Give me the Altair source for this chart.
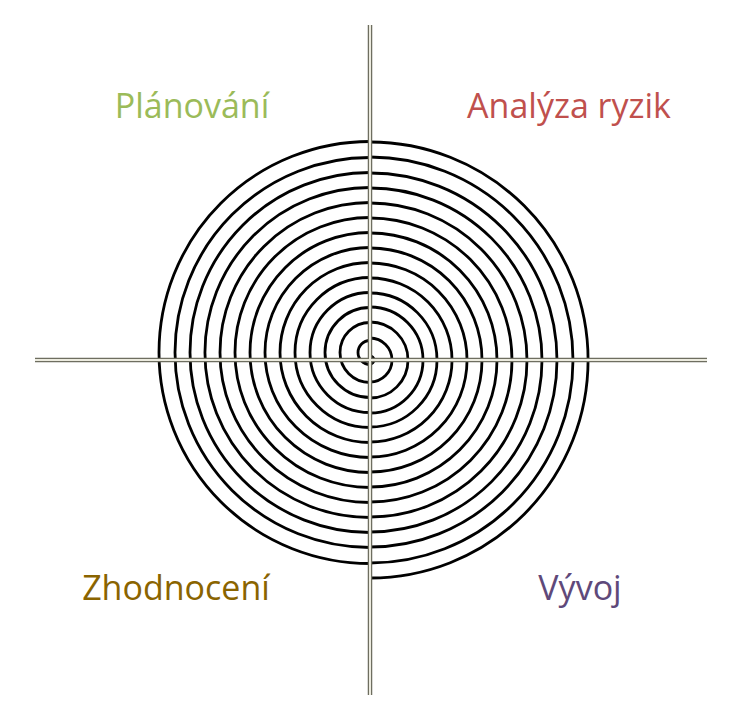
import math
import altair as alt
import pandas as pd

W, H = 726, 704
OX, OY = 8, 8  # page margin

# spiral: radii of right and left half-turns (px)
right_r = [4, 22, 38, 53, 67, 82, 97, 112, 127, 142, 157, 172, 187, 203, 218]
left_r = [12, 30, 45, 60, 75, 90, 105, 120, 135, 150, 165, 180, 195, 211]
center = (370, 360)
shift = 7.5

labels = ["Plánování", "Analýza ryzik", "Zhodnocení", "Vývoj"]
label_x = [192, 569, 176, 580]
label_y = [108, 108, 590, 590]
label_col = ["#9bbb59", "#c0504d", "#8a6400", "#5f497a"]

axis_v = (370, 25, 695)
axis_h = (360, 35, 707)

rows = []
for r in right_r:
    rows.append(dict(x=center[0] - OX, y=center[1] - OY, t1=0, t2=math.pi, r=r))
for r in left_r:
    rows.append(dict(x=center[0] - OX, y=center[1] - OY - shift, t1=math.pi, t2=2 * math.pi, r=r))
arcs = pd.DataFrame(rows)

xs = alt.Scale(domain=[0, W], nice=False, zero=False)
ys = alt.Scale(domain=[H, 0], nice=False, zero=False)

spiral = alt.Chart(arcs).mark_arc(fillOpacity=0, stroke="black", strokeWidth=2.8).encode(
    x=alt.X("x:Q", scale=xs, axis=None),
    y=alt.Y("y:Q", scale=ys, axis=None),
    theta=alt.Theta("t1:Q", scale=None), theta2="t2:Q",
    radius=alt.Radius("r:Q", scale=None), radius2="r:Q")

rules_df = pd.DataFrame({
    "x": [axis_v[0] - OX, axis_h[1] - OX], "x2": [axis_v[0] - OX, axis_h[2] - OX],
    "y": [axis_v[1] - OY, axis_h[0] - OY], "y2": [axis_v[2] - OY, axis_h[0] - OY]})
enc = dict(x=alt.X("x:Q", scale=xs), x2="x2:Q", y=alt.Y("y:Q", scale=ys), y2="y2:Q")
outer = alt.Chart(rules_df).mark_rule(color="#6e6e60", strokeWidth=4.5).encode(**enc)
inner = alt.Chart(rules_df).mark_rule(color="#ecebdf", strokeWidth=2).encode(**enc)

lab = pd.DataFrame({"t": labels, "x": [v - OX for v in label_x],
                    "y": [v - OY for v in label_y], "c": label_col})
text = alt.Chart(lab).mark_text(font="Open Sans", fontSize=34, baseline="middle").encode(
    x=alt.X("x:Q", scale=xs), y=alt.Y("y:Q", scale=ys), text="t:N",
    color=alt.Color("c:N", scale=None))

chart = (spiral + outer + inner + text).properties(
    width=W, height=H, padding=0, autosize=alt.AutoSizeParams(type="none")
).configure_view(stroke=None)

chart.save("out.html", embed_options={"renderer": "svg", "actions": False})
